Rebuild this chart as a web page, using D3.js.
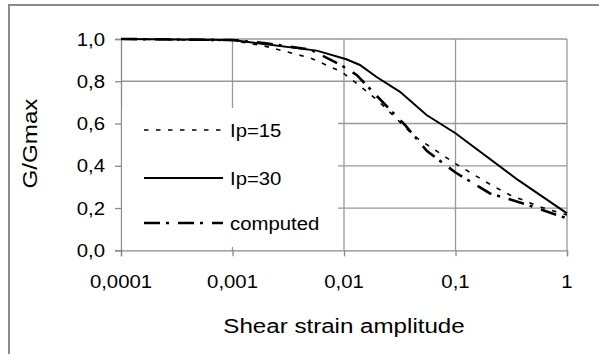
<!DOCTYPE html>
<html>
<head>
<meta charset="utf-8">
<script src="https://cdn.jsdelivr.net/npm/d3@7"></script>
<style>
  body { margin: 0; background: #fff; }
  svg { display: block; font-family: "Liberation Sans", Arial, sans-serif; }
</style>
</head>
<body>
<svg width="599" height="354"></svg>
<script>
// values
const xTicks = [0.0001, 0.001, 0.01, 0.1, 1]
const xTickLabels = ["0,0001", "0,001", "0,01", "0,1", "1"]
const yTicks = [0, 0.2, 0.4, 0.6, 0.8, 1.0]
const yTickLabels = ["0,0", "0,2", "0,4", "0,6", "0,8", "1,0"]

const ip15Strain = [0.0001, 0.001, 0.002, 0.005, 0.0095, 0.013, 0.02, 0.0434, 0.0727, 0.1, 0.212, 0.308, 0.57, 1]
const ip15G = [1, 0.993, 0.965, 0.91, 0.845, 0.79, 0.71, 0.537, 0.459, 0.41, 0.307, 0.262, 0.206, 0.167]

const ip30Strain = [0.0001, 0.001, 0.0057, 0.0105, 0.0139, 0.0196, 0.0318, 0.055, 0.1, 0.363, 1]
const ip30G = [1, 0.995, 0.945, 0.904, 0.877, 0.82, 0.75, 0.64, 0.554, 0.333, 0.175]

const computedStrain = [0.0001, 0.001, 0.002, 0.005, 0.0095, 0.013, 0.021, 0.0352, 0.0555, 0.1, 0.204, 0.42, 1]
const computedG = [1, 0.995, 0.98, 0.95, 0.875, 0.83, 0.715, 0.593, 0.47, 0.368, 0.269, 0.219, 0.151]

const seriesNames = ["Ip=15", "Ip=30", "computed"]

function drawChart() {
    const svg = d3.select("svg")
    const left = 121, right = 567, top = 39, bottom = 250.3
    const stretch = 1.13
    const grey = "#8a8a8a"

    // outer chart border
    svg.append("rect")
        .attr("x", 9).attr("y", 5)
        .attr("width", 620).attr("height", 380)
        .attr("fill", "white")
        .attr("stroke", grey)
        .attr("stroke-width", 2)

    const x = d3.scaleLog().domain([0.0001, 1]).range([left, right])
    const y = d3.scaleLinear().domain([0, 1]).range([bottom, top])

    // grid
    svg.append("g").selectAll("line")
        .data(yTicks.slice(1))
        .enter().append("line")
        .attr("x1", left).attr("x2", right)
        .attr("y1", d => y(d)).attr("y2", d => y(d))
        .attr("stroke", "#999").attr("stroke-width", 1.3)
    svg.append("g").selectAll("line")
        .data(xTicks.slice(1))
        .enter().append("line")
        .attr("x1", d => x(d)).attr("x2", d => x(d))
        .attr("y1", top).attr("y2", bottom)
        .attr("stroke", "#999").attr("stroke-width", 1.3)

    // axes
    const yAxis = svg.append("g")
        .attr("transform", `translate(${left},0)`)
        .call(d3.axisLeft(y).tickValues(yTicks).tickSize(6).tickFormat(""))
    const xAxis = svg.append("g")
        .attr("transform", `translate(0,${bottom})`)
        .call(d3.axisBottom(x).tickValues(xTicks).tickSize(6).tickFormat(""))
    for (const a of [yAxis, xAxis]) {
        a.select(".domain").attr("stroke", grey).attr("stroke-width", 1.3)
        a.selectAll(".tick line").attr("stroke", grey).attr("stroke-width", 1.3)
    }

    // tick labels (stretched a little, as in the picture)
    svg.append("g").selectAll("text")
        .data(yTicks)
        .enter().append("text")
        .attr("transform", d => `translate(105,${y(d) + 6.5}) scale(${stretch},1)`)
        .attr("text-anchor", "end")
        .attr("font-size", 18)
        .text((d, i) => yTickLabels[i])
    svg.append("g").selectAll("text")
        .data(xTicks)
        .enter().append("text")
        .attr("transform", d => `translate(${x(d)},288) scale(${stretch},1)`)
        .attr("text-anchor", "middle")
        .attr("font-size", 18)
        .text((d, i) => xTickLabels[i])

    // axis titles
    svg.append("text")
        .attr("transform", `translate(344,333.3) scale(1.15,1)`)
        .attr("text-anchor", "middle")
        .attr("font-size", 21)
        .text("Shear strain amplitude")
    svg.append("text")
        .attr("transform", `translate(37,143.5) rotate(-90) scale(1.15,1)`)
        .attr("text-anchor", "middle")
        .attr("font-size", 21)
        .text("G/Gmax")

    const styles = [
        { width: 1.6, dash: "4.5,7.5" },
        { width: 2, dash: null },
        { width: 2.6, dash: "16,6,3,9" }
    ]
    const series = [
        d3.zip(ip15Strain, ip15G),
        d3.zip(ip30Strain, ip30G),
        d3.zip(computedStrain, computedG)
    ]
    const line = d3.line().x(d => x(d[0])).y(d => y(d[1]))

    // legend box covers the grid (drawn before curves)
    svg.append("rect")
        .attr("x", 122).attr("y", 108)
        .attr("width", 216).attr("height", 139)
        .attr("fill", "white")

    svg.append("g").selectAll("path")
        .data(series)
        .enter().append("path")
        .attr("d", line)
        .attr("fill", "none")
        .attr("stroke", "black")
        .attr("stroke-width", (d, i) => styles[i].width)
        .attr("stroke-dasharray", (d, i) => styles[i].dash)

    // legend
    const legendY = [130, 178, 223]
    const legend = svg.append("g").selectAll("g")
        .data(seriesNames)
        .enter().append("g")
        .attr("transform", (d, i) => `translate(0,${legendY[i]})`)
    legend.append("line")
        .attr("x1", 144).attr("x2", 223)
        .attr("stroke", "black")
        .attr("stroke-width", (d, i) => styles[i].width)
        .attr("stroke-dasharray", (d, i) => styles[i].dash)
    legend.append("text")
        .attr("transform", `translate(230,6.5) scale(${stretch},1)`)
        .attr("font-size", 18)
        .text(d => d)
}
drawChart()
</script>
</body>
</html>
